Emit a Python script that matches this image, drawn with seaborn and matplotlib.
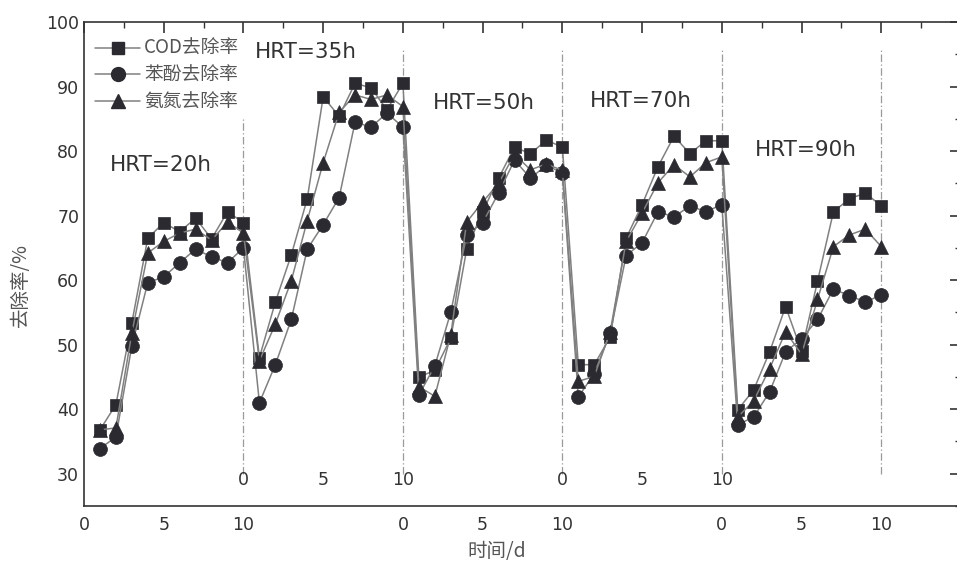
import numpy as np
import pandas as pd
import matplotlib
matplotlib.use("Agg")
import matplotlib.pyplot as plt
import seaborn as sns
from matplotlib.ticker import MultipleLocator
from matplotlib.lines import Line2D

sns.set_style("white")
plt.rcParams['font.family'] = ['DejaVu Sans', 'Noto Sans CJK SC']

# ---- data ----
days = list(range(1, 51))
cod = [36.8, 40.7, 53.4, 66.5, 68.9, 67.5, 69.6, 66.4, 70.6, 68.9,
       48.0, 56.6, 63.9, 72.6, 88.4, 85.4, 90.5, 89.8, 86.4, 90.5,
       45.0, 46.0, 51.0, 64.8, 70.6, 75.8, 80.6, 79.6, 81.7, 80.6,
       46.9, 46.9, 51.2, 66.5, 71.7, 77.6, 82.3, 79.6, 81.6, 81.6,
       39.9, 43.0, 48.9, 55.9, 49.0, 59.8, 70.6, 72.6, 73.5, 71.5]
phenol = [33.9, 35.7, 49.8, 59.6, 60.5, 62.7, 64.8, 63.6, 62.7, 65.0,
          41.0, 46.9, 53.9, 64.8, 68.6, 72.8, 84.5, 83.7, 85.9, 83.7,
          42.2, 46.7, 55.0, 67.0, 68.9, 73.5, 78.6, 75.8, 77.8, 76.6,
          41.9, 45.5, 51.8, 63.8, 65.8, 70.6, 69.8, 71.5, 70.6, 71.7,
          37.6, 38.8, 42.7, 48.9, 50.9, 53.9, 58.6, 57.6, 56.6, 57.7]
ammonia = [36.8, 37.1, 51.8, 64.2, 66.0, 67.3, 67.9, 66.2, 69.0, 67.3,
           47.5, 53.2, 59.9, 69.2, 78.2, 86.0, 88.7, 88.0, 88.7, 86.9,
           43.5, 42.0, 51.5, 69.0, 72.1, 75.0, 79.5, 77.1, 78.0, 77.0,
           44.3, 45.1, 52.0, 66.0, 70.4, 75.1, 77.9, 76.0, 78.2, 79.1,
           38.8, 41.3, 46.3, 52.0, 48.5, 57.0, 65.2, 67.0, 67.9, 65.2]
series_names = ['COD去除率', '苯酚去除率', '氨氮去除率']
hrt_labels = ['HRT=20h', 'HRT=35h', 'HRT=50h', 'HRT=70h', 'HRT=90h']
hrt_x = [4.8, 13.9, 25.1, 34.9, 45.3]
hrt_y = [77.9, 95.4, 87.5, 87.8, 80.2]
boundaries = [10, 20, 30, 40, 50]
boundary_tops = [85, 96, 96, 96, 96]
bottom_tick_pos = [0, 5, 10, 20, 25, 30, 40, 45, 50]
bottom_tick_lab = ['0', '5', '10', '0', '5', '10', '0', '5', '10']
inner_tick_pos = [10, 15, 20, 30, 35, 40]
inner_tick_lab = ['0', '5', '10', '0', '5', '10']

df = pd.DataFrame({'day': days * 3,
                   'value': cod + phenol + ammonia,
                   'series': [series_names[0]] * 50 + [series_names[1]] * 50 + [series_names[2]] * 50})

W, H = 957, 563
fig = plt.figure(figsize=(W / 100, H / 100), dpi=100)
ax = fig.add_axes([84 / W, 1 - 506 / H, 877 / W, (506 - 22) / H])

line_c = '#808080'
mark_c = '#2a2a30'
markers = ['s', 'o', '^']
msizes = [9.0, 10.0, 9.5]
for name, m, ms in zip(series_names, markers, msizes):
    sub = df[df['series'] == name]
    sns.lineplot(data=sub, x='day', y='value', ax=ax, color=line_c, lw=1.1,
                 marker=m, markersize=ms, markerfacecolor=mark_c,
                 markeredgecolor=mark_c, markeredgewidth=0.5, legend=False)

for b, t in zip(boundaries, boundary_tops):
    ax.plot([b, b], [30, t], ls=(0, (6, 2, 1, 2)), color='#9a9a9a', lw=0.9, zorder=0)

ax.set_xlim(0, 55)
ax.set_ylim(25, 100)
ax.xaxis.set_minor_locator(MultipleLocator(2.5))
ax.yaxis.set_minor_locator(MultipleLocator(5))
ax.set_yticks(np.arange(30, 101, 10))
ax.set_yticklabels([str(v) for v in range(30, 101, 10)])
ax.set_xticks(np.arange(0, 56, 5))
ax.set_xticklabels(['' for _ in np.arange(0, 56, 5)])
for p, l in zip(bottom_tick_pos, bottom_tick_lab):
    ax.text(p, 25 - 1.6, l, ha='center', va='top', fontsize=12.5, color='#333333')
for p, l in zip(inner_tick_pos, inner_tick_lab):
    ax.text(p, 29.1, l, ha='center', va='center', fontsize=12.5, color='#333333')

ax.tick_params(axis='both', which='both', direction='in', top=True, right=True,
               colors='#333333', labelsize=12.5)
ax.tick_params(which='major', length=8, width=1.2)
ax.tick_params(which='minor', length=4, width=1.0)
for s in ax.spines.values():
    s.set_color('#333333')
    s.set_linewidth(1.2)

ax.set_xlabel('')
ax.set_ylabel('')
cjk = ['Noto Sans CJK SC', 'DejaVu Sans']
fig.text(20 / W, 1 - 285 / H, '去除率/%', rotation=90, ha='center', va='center',
         fontsize=14, color='#555555', family=cjk)
fig.text(497 / W, 1 - 551 / H, '时间/d', ha='center', va='center',
         fontsize=14, color='#555555', family=cjk)

for l, x, y in zip(hrt_labels, hrt_x, hrt_y):
    ax.text(x, y, l, ha='center', va='center', fontsize=15.5, color='#333333')

handles = [Line2D([], [], color=line_c, lw=1.1, marker=m, markersize=ms,
                  markerfacecolor=mark_c, markeredgecolor=mark_c)
           for m, ms in zip(markers, msizes)]
leg = ax.legend(handles, series_names, loc='upper left', bbox_to_anchor=(0.0, 0.99),
                frameon=False, handlelength=2.4, handletextpad=0.2, labelspacing=0.3,
                borderaxespad=0.2, prop={'family': cjk, 'size': 13.5})
for t in leg.get_texts():
    t.set_color('#555555')

fig.savefig('out.png', dpi=100)
